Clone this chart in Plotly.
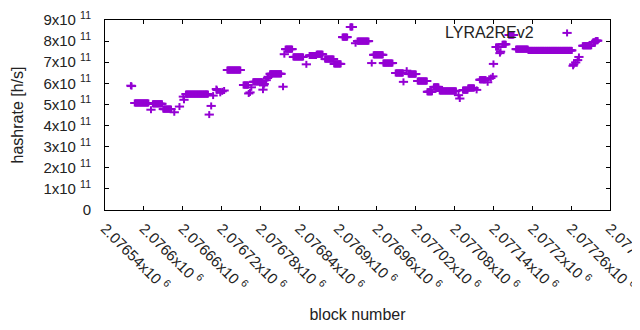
import plotly.graph_objects as go

# Runs of consecutive blocks sharing one hashrate (start block, end block, value in 1e11 h/s)
run_start = [2076586, 2076614, 2076630, 2076665, 2076729, 2076754, 2076769, 2076795,
             2076819, 2076831, 2076856, 2076867, 2076880, 2076894, 2076907, 2076919,
             2076930, 2076955, 2076970, 2076989, 2077009, 2077023, 2077038, 2077048,
             2077057, 2077093, 2077101, 2077119, 2077144, 2077154, 2077164, 2077175,
             2077194, 2077278, 2077294, 2077298]
run_end = [2076607, 2076628, 2076642, 2076699, 2076749, 2076761, 2076783, 2076812,
           2076829, 2076846, 2076866, 2076876, 2076893, 2076904, 2076914, 2076922,
           2076947, 2076969, 2076984, 2077000, 2077020, 2077037, 2077045, 2077055,
           2077082, 2077100, 2077110, 2077128, 2077148, 2077159, 2077171, 2077193,
           2077261, 2077291, 2077297, 2077301]
run_value = [5.07, 5.03, 4.78, 5.49, 6.63, 5.92, 6.07, 6.45,
             7.62, 7.25, 7.32, 7.38, 7.15, 6.92, 8.19, 8.67,
             8.00, 7.35, 6.96, 6.49, 6.44, 6.11, 5.60, 5.83,
             5.64, 5.68, 5.78, 6.17, 7.72, 7.85, 8.29, 7.62,
             7.56, 7.78, 7.96, 8.02]

# Isolated blocks
single_block = [2076580, 2076581, 2076611, 2076647, 2076655, 2076661, 2076662, 2076701,
                2076704, 2076707, 2076712, 2076713, 2076718, 2076721, 2076724, 2076762,
                2076764, 2076766, 2076784, 2076785, 2076786, 2076789, 2076791, 2076792,
                2076815, 2076817, 2076851, 2076927, 2076952, 2077001, 2077006, 2077086,
                2077088, 2077114, 2077131, 2077136, 2077139, 2077140, 2077150, 2077151,
                2077263, 2077264, 2077267, 2077270, 2077272]
single_value = [5.89, 5.87, 4.75, 4.63, 4.90, 5.37, 5.22, 4.52,
                4.93, 5.42, 5.73, 5.68, 5.55, 5.62, 5.66, 5.52,
                5.57, 5.81, 5.70, 5.90, 5.97, 6.15, 6.25, 6.31,
                5.84, 7.38, 6.90, 7.90, 6.96, 6.07, 6.60, 5.44,
                5.28, 5.69, 6.05, 6.25, 6.33, 6.92, 7.43, 7.50,
                6.83, 6.90, 6.99, 7.10, 7.25]

x_ticks = [2076540 + 60 * i for i in range(14)]
x_ticktext = ["2.07654", "2.0766", "2.07666", "2.07672", "2.07678", "2.07684", "2.0769",
              "2.07696", "2.07702", "2.07708", "2.07714", "2.0772", "2.07726", "2.07732"]
y_ticks = [i * 1e11 for i in range(10)]
y_ticktext = ["0"] + [f"{i}x10 <sup>11</sup>" for i in range(1, 10)]

SCALE = 1e11
pts = []
for s, e, v in zip(run_start, run_end, run_value):
    for b in range(s, e + 1):
        pts.append((b, v * SCALE))
for b, v in zip(single_block, single_value):
    pts.append((b, v * SCALE))
pts.sort()
xs = [p[0] for p in pts]
ys = [p[1] for p in pts]

COLOR = "#9400D3"
FONT = "Liberation Sans, Arial, sans-serif"

fig = go.Figure()
fig.add_trace(go.Scatter(x=xs, y=ys, mode="markers", showlegend=False, hoverinfo="skip",
                         marker=dict(symbol="line-ew", size=6.6, color=COLOR,
                                     line=dict(color=COLOR, width=2))))
fig.add_trace(go.Scatter(x=xs, y=ys, mode="markers", showlegend=False, name="LYRA2REv2",
                         marker=dict(symbol="line-ns", size=5, color=COLOR,
                                     line=dict(color=COLOR, width=2))))
# legend key (gnuplot style: text then sample)
for sym, sz in (("line-ew", 6.6), ("line-ns", 5)):
    fig.add_trace(go.Scatter(x=[0.915], y=[0.932], xaxis="x2", yaxis="y2", mode="markers",
                             showlegend=False, hoverinfo="skip",
                             marker=dict(symbol=sym, size=sz, color=COLOR,
                                         line=dict(color=COLOR, width=2))))

axis_common = dict(showline=True, linecolor="black", linewidth=1, mirror="ticks",
                   ticks="inside", ticklen=4, tickcolor="black", showgrid=False,
                   zeroline=False, automargin=False, ticklabeloverflow="allow",
                   tickfont=dict(family=FONT, size=15, color="#222"))

# page body has an 8px margin, so the figure is 8px smaller than the window
fig.update_layout(
    width=632, height=322,
    margin=dict(l=97, r=30, t=12, b=120, autoexpand=False),
    paper_bgcolor="white", plot_bgcolor="white",
    font=dict(family=FONT, size=15, color="#222"),
    xaxis=dict(range=[2076540, 2077320], tickmode="array", tickvals=x_ticks,
               ticktext=[t + "x10 <sup>6</sup>" for t in x_ticktext], tickangle=45,
               ticklabelstandoff=3,
               title=dict(text="block number", standoff=15, font=dict(family=FONT, size=16)),
               **axis_common),
    yaxis=dict(range=[0, 9e11], tickmode="array", tickvals=y_ticks, ticktext=y_ticktext,
               ticklabelstandoff=10,
               title=dict(text="hashrate [h/s]", standoff=15, font=dict(family=FONT, size=16)),
               **axis_common),
    xaxis2=dict(range=[0, 1], overlaying="x", visible=False),
    yaxis2=dict(range=[0, 1], overlaying="y", visible=False),
    annotations=[dict(text="LYRA2REv2", xref="paper", yref="paper", x=0.8535, y=0.932,
                      xanchor="right", yanchor="middle", showarrow=False,
                      font=dict(family=FONT, size=16, color="#222"))],
)

fig.write_html("out.html")
